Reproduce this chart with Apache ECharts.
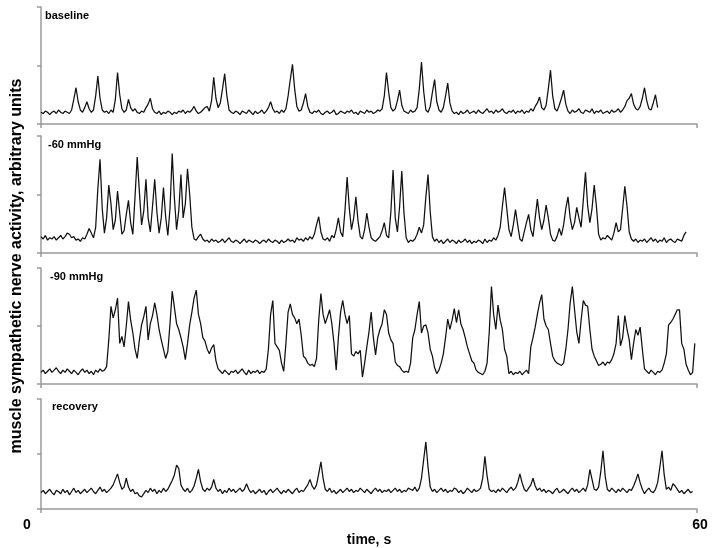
<!DOCTYPE html>
<html>
<head>
<meta charset="utf-8">
<script src="https://cdn.jsdelivr.net/npm/echarts@6.0.0/dist/echarts.min.js"></script>
<style>
html, body { margin: 0; padding: 0; background: #fff; }
#main { width: 712px; height: 548px; }
</style>
</head>
<body>
<div id="main"></div>
<script>
// sample step of the traces, seconds
var step = 0.2;
var panelNames = ['baseline', '-60 mmHg', '-90 mmHg', 'recovery'];
var timeTicks = [0, 60];
var unitTicks = [0, 50, 100];

// traces, arbitrary units (0..100 per panel)
var baseline = [
  10, 9, 11, 10, 8, 10, 11, 9, 12, 10, 9, 11, 10, 9, 12, 21, 31, 19, 12, 10,
  14, 19, 13, 10, 12, 24, 41, 22, 12, 10, 11, 9, 12, 10, 21, 44, 25, 13, 10, 12,
  21, 14, 11, 13, 10, 9, 11, 10, 14, 17, 22, 13, 10, 9, 11, 8, 10, 9, 11, 10,
  8, 10, 9, 11, 10, 12, 9, 11, 10, 12, 15, 11, 9, 10, 12, 14, 15, 11, 20, 40,
  22, 14, 18, 30, 43, 24, 12, 10, 9, 11, 10, 8, 11, 10, 9, 12, 10, 8, 11, 9,
  10, 12, 9, 11, 14, 19, 13, 10, 11, 9, 12, 10, 13, 24, 38, 51, 30, 15, 11, 12,
  18, 26, 15, 10, 9, 11, 10, 12, 9, 8, 10, 11, 9, 10, 12, 8, 9, 11, 10, 9,
  11, 10, 12, 9, 10, 8, 11, 10, 9, 12, 10, 11, 9, 10, 12, 11, 13, 24, 44, 27,
  14, 11, 13, 20, 29, 16, 11, 10, 9, 12, 10, 11, 14, 30, 53, 28, 12, 10, 15, 27,
  38, 19, 12, 10, 14, 24, 35, 18, 11, 9, 10, 8, 11, 9, 10, 12, 9, 10, 11, 9,
  12, 10, 9, 11, 13, 10, 11, 9, 12, 10, 11, 13, 10, 9, 11, 10, 12, 9, 11, 10,
  12, 9, 11, 10, 13, 11, 15, 18, 23, 14, 12, 16, 30, 46, 24, 13, 11, 16, 22, 29,
  17, 11, 9, 12, 10, 11, 13, 10, 9, 12, 11, 10, 13, 9, 11, 10, 12, 9, 10, 11,
  9, 12, 10, 11, 13, 10, 12, 15, 20, 22, 26, 17, 13, 12, 15, 22, 31, 20, 13, 12,
  18, 25, 14
];

var minus60 = [
  14, 12, 15, 11, 13, 12, 14, 11, 13, 15, 12, 14, 17, 16, 13, 14, 11, 12, 10, 13,
  12, 16, 21, 17, 13, 22, 55, 80, 38, 17, 30, 58, 42, 20, 28, 53, 34, 16, 19, 33,
  45, 26, 16, 48, 82, 52, 24, 36, 63, 30, 18, 40, 63, 35, 17, 30, 56, 31, 15, 38,
  85, 47, 20, 36, 67, 30, 42, 72, 50, 22, 12, 11, 14, 16, 12, 10, 11, 9, 12, 10,
  11, 9, 10, 12, 9, 11, 13, 10, 9, 11, 10, 8, 10, 12, 9, 11, 10, 9, 11, 10,
  8, 10, 11, 9, 12, 10, 9, 11, 10, 8, 11, 9, 10, 12, 10, 11, 9, 13, 11, 12,
  10, 13, 11, 14, 12, 16, 24, 31, 18, 12, 11, 13, 10, 15, 13, 20, 30, 18, 14, 36,
  65, 38, 20, 30, 48, 27, 14, 12, 20, 34, 22, 13, 11, 10, 12, 14, 19, 26, 15, 13,
  35, 71, 30, 18, 40, 70, 34, 13, 9, 11, 10, 12, 16, 22, 17, 24, 48, 67, 35, 14,
  10, 12, 9, 11, 8, 10, 12, 9, 11, 10, 8, 11, 9, 10, 12, 9, 11, 8, 10, 9,
  11, 10, 8, 12, 9, 11, 10, 13, 11, 15, 22, 40, 56, 38, 20, 14, 24, 37, 24, 12,
  10, 18, 26, 33, 20, 14, 30, 46, 30, 20, 28, 41, 30, 16, 11, 10, 14, 21, 15, 24,
  38, 48, 30, 20, 26, 39, 30, 22, 45, 69, 40, 26, 38, 58, 40, 16, 11, 13, 12, 15,
  13, 11, 17, 26, 18, 20, 38, 57, 40, 18, 12, 10, 12, 9, 11, 10, 12, 9, 11, 13,
  10, 12, 9, 11, 10, 13, 9, 11, 12, 10, 9, 12, 11, 10, 15, 18
];

var minus90 = [
  10, 12, 9, 11, 13, 10, 12, 14, 11, 9, 12, 10, 13, 11, 9, 12, 10, 8, 11, 13,
  10, 12, 9, 11, 8, 12, 10, 13, 11, 12, 15, 38, 67, 57, 64, 74, 35, 41, 32, 50,
  71, 55, 44, 30, 22, 38, 51, 58, 67, 38, 52, 59, 70, 60, 47, 38, 30, 22, 28, 52,
  80, 66, 52, 47, 40, 32, 21, 35, 51, 62, 74, 81, 60, 52, 40, 37, 30, 26, 31, 34,
  20, 13, 11, 9, 12, 10, 8, 11, 10, 12, 9, 11, 13, 10, 8, 12, 9, 11, 10, 12,
  9, 11, 10, 13, 30, 60, 72, 35, 32, 29, 18, 11, 35, 62, 69, 60, 57, 52, 56, 42,
  24, 22, 18, 16, 17, 15, 22, 55, 78, 60, 52, 58, 64, 52, 35, 12, 40, 62, 72, 60,
  52, 59, 26, 24, 28, 26, 29, 6, 18, 32, 45, 62, 40, 25, 40, 47, 52, 64, 60, 44,
  38, 35, 19, 16, 15, 12, 10, 11, 10, 18, 40, 47, 60, 71, 44, 50, 51, 44, 30, 24,
  14, 9, 12, 18, 26, 40, 56, 47, 55, 65, 53, 64, 52, 47, 40, 32, 26, 20, 18, 12,
  10, 9, 8, 11, 18, 45, 84, 60, 47, 68, 55, 47, 30, 24, 9, 11, 8, 10, 9, 11,
  8, 10, 12, 9, 32, 40, 49, 60, 70, 77, 56, 50, 47, 35, 24, 20, 18, 17, 16, 18,
  30, 47, 70, 84, 64, 45, 35, 55, 72, 68, 67, 47, 30, 24, 20, 16, 17, 19, 16, 19,
  18, 21, 26, 35, 59, 33, 40, 59, 47, 38, 21, 35, 47, 42, 49, 30, 13, 11, 9, 12,
  10, 8, 11, 10, 12, 18, 26, 51, 53, 56, 60, 64, 64, 35, 30, 17, 12, 8, 10, 35
];

var recovery = [
  15, 17, 14, 16, 18, 15, 13, 17, 16, 14, 18, 15, 17, 13, 16, 19, 15, 17, 14, 16,
  18, 15, 17, 19, 16, 14, 17, 20, 16, 18, 15, 17, 19, 22, 27, 32, 24, 18, 20, 28,
  20, 16, 18, 14, 15, 12, 11, 14, 17, 15, 19, 16, 18, 14, 17, 15, 19, 16, 18, 22,
  26, 31, 40, 37, 22, 18, 16, 19, 15, 17, 21, 28, 36, 25, 18, 16, 19, 17, 20, 27,
  19, 16, 18, 14, 17, 15, 19, 16, 18, 15, 17, 19, 16, 18, 23, 18, 15, 17, 14, 16,
  18, 15, 17, 13, 16, 18, 15, 17, 19, 16, 14, 17, 15, 18, 16, 14, 17, 19, 15, 17,
  16, 19, 22, 27, 21, 18, 22, 32, 43, 28, 18, 16, 19, 15, 17, 14, 16, 18, 15, 17,
  19, 16, 18, 15, 17, 16, 19, 17, 15, 18, 16, 14, 17, 19, 16, 18, 15, 17, 16, 18,
  15, 17, 19, 16, 18, 15, 17, 16, 19, 18, 17, 20, 16, 19, 28, 45, 61, 38, 20, 16,
  18, 15, 17, 19, 16, 18, 15, 17, 16, 19, 18, 15, 17, 14, 16, 19, 17, 15, 18, 16,
  17, 19, 28, 48, 30, 18, 16, 17, 15, 18, 16, 19, 17, 15, 18, 20, 17, 19, 24, 32,
  24, 18, 16, 19, 22, 28, 21, 17, 19, 16, 18, 15, 17, 16, 14, 17, 19, 15, 16, 18,
  16, 14, 17, 19, 16, 18, 15, 17, 19, 16, 22, 36, 27, 18, 17, 20, 34, 53, 30, 18,
  16, 19, 17, 15, 18, 16, 19, 17, 15, 18, 17, 21, 26, 32, 24, 18, 14, 17, 19, 16,
  15, 18, 24, 38, 53, 31, 18, 20, 17, 23, 21, 18, 15, 17, 14, 16, 18, 15, 16
];

var traces = [baseline, minus60, minus90, recovery];

// layout of the four stacked panels
var tops = [7, 136, 268, 399];
var heights = [117, 117, 116, 116];
var labelPos = [[45, 10], [48, 139], [50, 271], [52, 401]];

var font = 'Liberation Sans, Arial, sans-serif';
var axisGray = '#9a9a9a';

var grids = [], xAxes = [], yAxes = [], series = [], titles = [];
for (var p = 0; p < 4; p++) {
    var last = p === 3;
    grids.push({ left: 41, right: 15, top: tops[p], height: heights[p] });
    xAxes.push({
	gridIndex : p,
	type : 'value',
	min : timeTicks[0],
	max : timeTicks[1],
	interval : timeTicks[1] - timeTicks[0],
	axisLine : { show : true, lineStyle : { color : axisGray, width : 1.5 } },
	axisTick : { show : true, length : 4, lineStyle : { color : axisGray, width : 1.5 } },
	splitLine : { show : false },
	axisLabel : {
	    show : last,
	    margin : 9,
	    formatter : function(v) {
		return v === timeTicks[0] ? '{a|' + v + '}' : '{b|' + v + '}';
	    },
	    rich : {
		a : { padding : [ 0, 28, 0, 0 ], fontSize : 14, fontWeight : 'bold', fontFamily : font, color : '#000' },
		b : { padding : [ 0, 0, 0, 6 ], fontSize : 14, fontWeight : 'bold', fontFamily : font, color : '#000' }
	    }
	},
	name : last ? 'time, s' : '',
	nameLocation : 'middle',
	nameGap : 21,
	nameTextStyle : { fontSize : 14, fontWeight : 'bold', fontFamily : font, color : '#000' }
    });
    yAxes.push({
	gridIndex : p,
	type : 'value',
	min : unitTicks[0],
	max : unitTicks[unitTicks.length - 1],
	interval : unitTicks[1] - unitTicks[0],
	axisLine : { show : true, lineStyle : { color : axisGray, width : 1.5 } },
	axisTick : { show : true, length : 4, lineStyle : { color : axisGray, width : 1.5 } },
	axisLabel : { show : false },
	splitLine : { show : false }
    });
    var pts = traces[p].map(function(v, i) {
	return [ +(i * step).toFixed(2), v ];
    });
    series.push({
	name : panelNames[p],
	type : 'line',
	xAxisIndex : p,
	yAxisIndex : p,
	data : pts,
	showSymbol : false,
	sampling : null,
	lineStyle : { color : '#111', width : 1.25 }
    });
    titles.push({
	text : panelNames[p],
	left : labelPos[p][0],
	top : labelPos[p][1],
	padding : 0,
	textStyle : { fontSize : 11, fontWeight : 'bold', fontFamily : font, color : '#000' }
    });
}

var myChart = echarts.init(document.getElementById('main'));
myChart.setOption({
    animation : false,
    backgroundColor : '#fff',
    title : titles,
    grid : grids,
    xAxis : xAxes,
    yAxis : yAxes,
    series : series,
    graphic : [ {
	type : 'text',
	x : 17,
	y : 266,
	rotation : Math.PI / 2,
	style : {
	    text : 'muscle sympathetic nerve activity, arbitrary units',
	    font : 'bold 16px ' + font,
	    fill : '#000',
	    textAlign : 'center',
	    textVerticalAlign : 'middle'
	}
    } ]
});
</script>
</body>
</html>
